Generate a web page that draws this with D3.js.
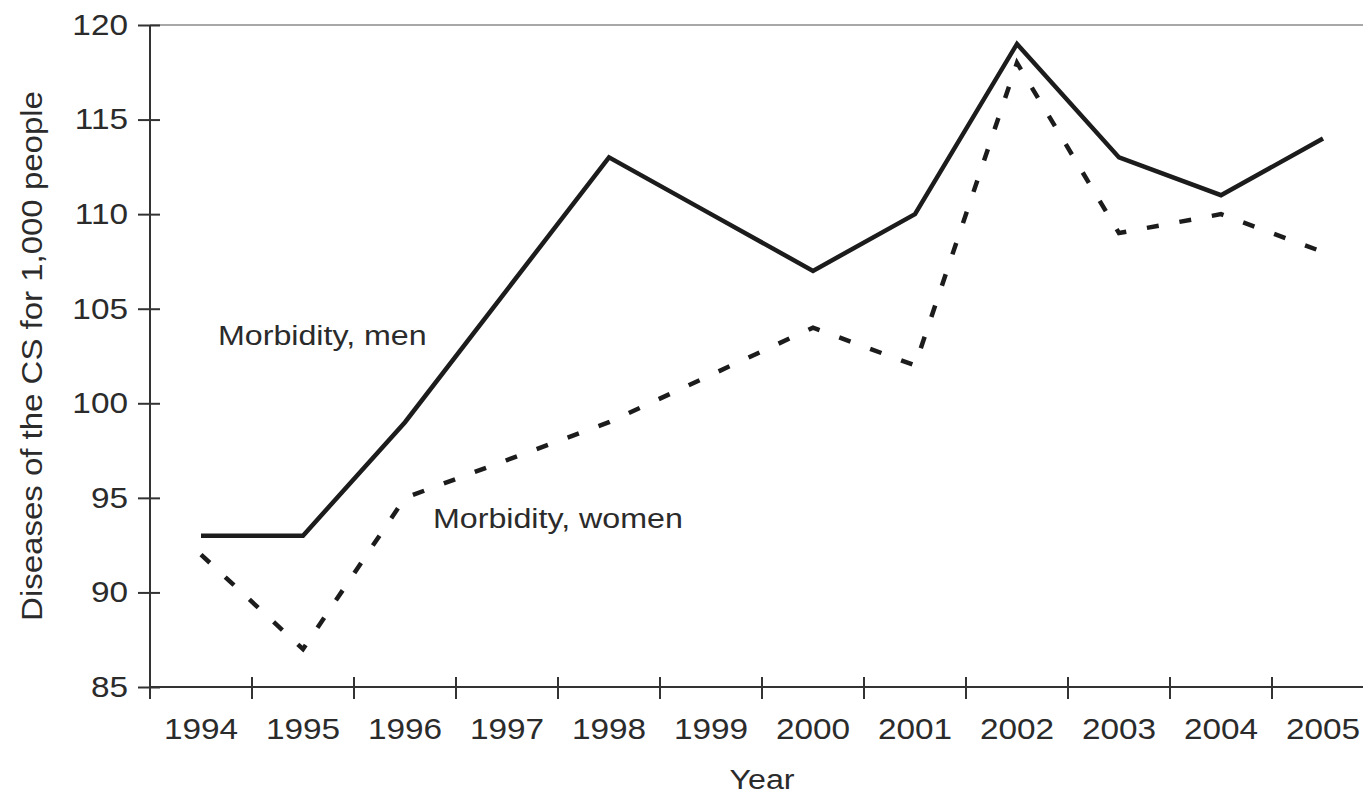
<!DOCTYPE html>
<html lang="en">
    <head>
        <meta charset="utf-8">
        <title>Morbidity, men and women</title>
        <script type="text/javascript" src="https://cdn.jsdelivr.net/npm/d3@7"></script>
        <style>
            body { margin: 0; background: #fff; }
            text { font-family: "Liberation Sans", Arial, sans-serif; fill: #2b2b2b; }
        </style>
    </head>
    <body>
        <div class="chart"></div>
        <script type="text/javascript">
            // data
            var years = ["1994", "1995", "1996", "1997", "1998", "1999", "2000", "2001", "2002", "2003", "2004", "2005"];
            var men = [93, 93, 99, 106, 113, 110, 107, 110, 119, 113, 111, 114];
            var women = [92, 87, 95, 97, 99, 101.5, 104, 102, 118, 109, 110, 108];
            var yTicks = [85, 90, 95, 100, 105, 110, 115, 120];

            var w = 1363;
            var h = 794;
            var padLeft = 150, padTop = 25, padBottom = 687;
            // the printed type is a little wider than Liberation Sans
            var sx = 1.15;

            var svg = d3.select("div.chart")
                        .append("svg")
                        .attr("width", w)
                        .attr("height", h);

            // scales
            var xScale = d3.scaleBand()
                           .domain(years)
                           .range([padLeft, padLeft + 12 * 102]);
            var yScale = d3.scaleLinear()
                           .domain([85, 120])
                           .range([padBottom, padTop]);

            // light line on top (120)
            svg.append("line")
               .attr("x1", padLeft).attr("x2", w)
               .attr("y1", yScale(120)).attr("y2", yScale(120))
               .attr("stroke", "#a8a8a8")
               .attr("stroke-width", 2);

            // y axis
            var yAxis = d3.axisLeft(yScale)
                          .tickValues(yTicks)
                          .tickSize(12)
                          .tickPadding(10);
            var gy = svg.append("g")
                        .attr("class", "y axis")
                        .attr("transform", "translate(" + padLeft + ",0)")
                        .call(yAxis);
            gy.select(".domain").remove();
            gy.selectAll(".tick line").attr("x2", 10).attr("x1", -12);
            gy.selectAll(".tick text")
              .attr("x", -22 / sx)
              .attr("transform", "scale(" + sx + ",1)");
            gy.append("line")
              .attr("x1", 0).attr("x2", 0)
              .attr("y1", padTop).attr("y2", padBottom + 12);

            // x axis: labels at band centres, tick marks at band edges
            var xAxis = d3.axisBottom(xScale)
                          .tickSize(0)
                          .tickPadding(31);
            var gx = svg.append("g")
                        .attr("class", "x axis")
                        .attr("transform", "translate(0," + padBottom + ")")
                        .call(xAxis);
            gx.select(".domain").remove();
            gx.selectAll(".tick text")
              .attr("transform", "scale(" + sx + ",1)");
            gx.append("line")
              .attr("x1", padLeft).attr("x2", w)
              .attr("y1", 0).attr("y2", 0);
            gx.selectAll("line.edge")
              .data(years)
              .enter()
              .append("line")
              .attr("class", "edge")
              .attr("x1", function(d){return xScale(d);})
              .attr("x2", function(d){return xScale(d);})
              .attr("y1", -10)
              .attr("y2", 12);

            svg.selectAll(".axis line")
               .attr("stroke", "#333")
               .attr("stroke-width", 2);
            svg.selectAll(".axis text")
               .style("font-size", "29px")
               .attr("fill", "#2b2b2b");

            // axis titles
            svg.append("text")
               .attr("transform", "translate(" + (xScale.range()[0] + xScale.range()[1]) / 2 + ",789) scale(" + sx + ",1)")
               .attr("text-anchor", "middle")
               .style("font-size", "28px")
               .text("Year");
            svg.append("text")
               .attr("transform", "translate(42," + (padTop + padBottom) / 2 + ") rotate(-90) scale(1.1,1)")
               .attr("text-anchor", "middle")
               .style("font-size", "30px")
               .text("Diseases of the CS for 1,000 people");

            // lines
            var line = d3.line()
                         .x(function(d, i){return xScale(years[i]) + xScale.bandwidth() / 2;})
                         .y(function(d){return yScale(d);});
            svg.append("path")
               .datum(men)
               .attr("d", line)
               .attr("fill", "none")
               .attr("stroke", "#1c1c1c")
               .attr("stroke-width", 4.5);
            svg.append("path")
               .datum(women)
               .attr("d", line)
               .attr("fill", "none")
               .attr("stroke", "#1c1c1c")
               .attr("stroke-width", 4.5)
               .attr("stroke-dasharray", "12,21");

            // series labels
            svg.append("text")
               .attr("transform", "translate(218,345) scale(" + sx + ",1)")
               .style("font-size", "28px")
               .text("Morbidity, men");
            svg.append("text")
               .attr("transform", "translate(433,528) scale(" + sx + ",1)")
               .style("font-size", "28px")
               .text("Morbidity, women");
        </script>
    </body>
</html>
